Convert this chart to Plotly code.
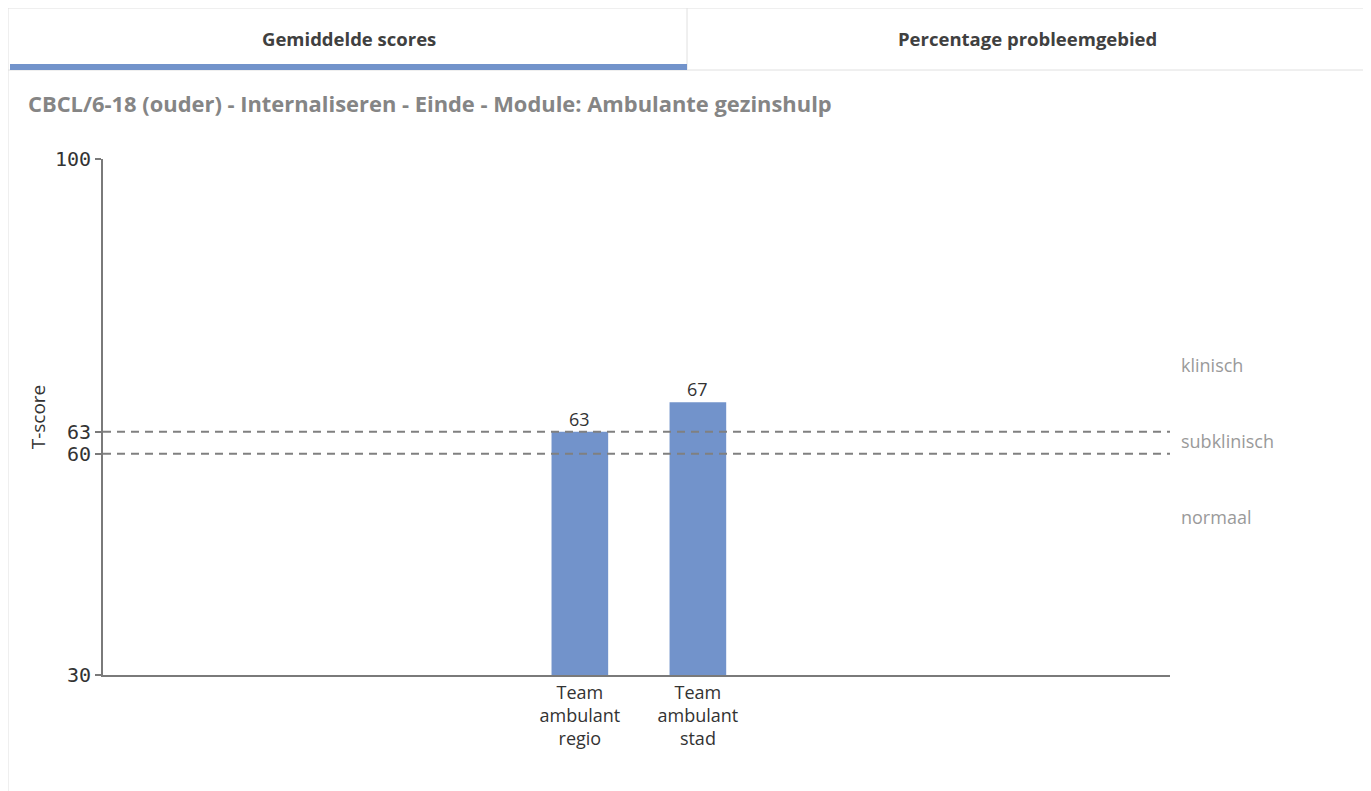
import plotly.graph_objects as go

# ---- data ----
categories = ["Team<br>ambulant<br>regio", "Team<br>ambulant<br>stad"]
scores = [63, 67]
thresholds = [63, 60]
y_ticks = [30, 60, 63, 100]
zone_labels = ["klinisch", "subklinisch", "normaal"]
zone_label_y = [72, 61.7, 51.5]
tab_labels = ["Gemiddelde scores", "Percentage probleemgebied"]
chart_title = "CBCL/6-18 (ouder) - Internaliseren - Einde - Module: Ambulante gezinshulp"

# page body has an 8px margin; compensate
OX, OY = 8, 8
W, H = 1371 - OX, 791 - OY
L, R, T, B = 103 - OX, 1170 - OX, 159 - OY, 675 - OY


def px(x):
    return (x - OX - L) / (R - L)


def py(y):
    return (B - (y - OY)) / (B - T)


BAR = "#7293cb"
AXIS = "#7a7a7a"
SANS = "Open Sans, Liberation Sans, sans-serif"

fig = go.Figure()
fig.add_trace(go.Bar(
    x=categories, y=scores, marker=dict(color=BAR, line=dict(width=0)),
    width=0.48, hoverinfo="x+y",
))

shapes = []
# tab container
shapes.append(dict(type="rect", xref="paper", yref="paper", x0=px(8), x1=px(1368), y0=py(8), y1=py(70),
                   line=dict(color="#e0e0e0", width=1), fillcolor="rgba(0,0,0,0)", layer="below"))
shapes.append(dict(type="line", xref="paper", yref="paper", x0=px(687), x1=px(687), y0=py(8), y1=py(70),
                   line=dict(color="#e0e0e0", width=1)))
shapes.append(dict(type="rect", xref="paper", yref="paper", x0=px(10), x1=px(687), y0=py(64), y1=py(70),
                   line=dict(width=0), fillcolor=BAR))
# container borders
shapes.append(dict(type="line", xref="paper", yref="paper", x0=px(8), x1=px(8), y0=py(70), y1=py(791),
                   line=dict(color="#e0e0e0", width=1)))
shapes.append(dict(type="line", xref="paper", yref="paper", x0=px(1368), x1=px(1368), y0=py(70), y1=py(791),
                   line=dict(color="#e0e0e0", width=1)))
# threshold lines
for t in thresholds:
    shapes.append(dict(type="line", xref="paper", yref="y", x0=0, x1=1, y0=t, y1=t,
                       line=dict(color="#808080", width=2, dash="8px,6px"), layer="above"))

annotations = []
# bar value labels
for c, s in zip(categories, scores):
    annotations.append(dict(text=str(s), x=c, y=s, xref="x", yref="y", showarrow=False,
                            xanchor="center", yanchor="bottom", yshift=-1,
                            font=dict(family=SANS, size=18, color="#333333")))
for i, lab in enumerate(tab_labels):
    cx = (10 + 687) / 2 if i == 0 else (687 + 1368) / 2
    annotations.append(dict(text=f"<b>{lab}</b>", xref="paper", yref="paper", x=px(cx), y=py(38),
                            showarrow=False, xanchor="center", yanchor="middle",
                            font=dict(family=SANS, size=18.5, color="#404040")))
annotations.append(dict(text=f"<b>{chart_title}</b>", xref="paper", yref="paper", x=px(26), y=py(103),
                        showarrow=False, xanchor="left", yanchor="middle",
                        font=dict(family=SANS, size=21.9, color="#858585")))
for lab, yv in zip(zone_labels, zone_label_y):
    annotations.append(dict(text=lab, xref="paper", yref="y", x=px(1179), y=yv, showarrow=False,
                            xanchor="left", yanchor="middle",
                            font=dict(family=SANS, size=18, color="#9a9a9a")))

fig.update_layout(
    width=W, height=H, autosize=False,
    margin=dict(l=L, r=W - R, t=T, b=H - B, pad=0),
    paper_bgcolor="white", plot_bgcolor="white",
    showlegend=False, shapes=shapes, annotations=annotations,
)
fig.update_xaxes(type="category", range=[-4.04, 5.0], showline=True, linecolor=AXIS, linewidth=2,
                 ticks="", showgrid=False, zeroline=False,
                 tickfont=dict(family=SANS, size=18, color="#333333"))
fig.update_yaxes(range=[30, 100], tickvals=y_ticks, showline=True, linecolor=AXIS, linewidth=2,
                 ticks="outside", ticklen=6, tickcolor=AXIS, tickwidth=2, showgrid=False, zeroline=False,
                 tickfont=dict(family="DejaVu Sans Mono, monospace", size=20, color="#333333"),
                 title=dict(text="T-score", standoff=4,
                            font=dict(family=SANS, size=19, color="#333333")))

fig.write_html("out.html")
